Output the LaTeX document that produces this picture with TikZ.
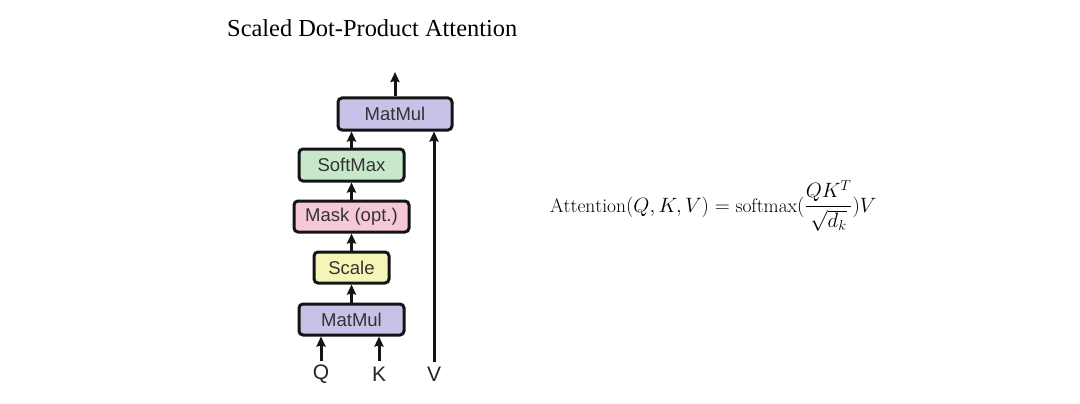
\documentclass[tikz,border=0pt]{standalone}
\usepackage{fontspec}
\usepackage{amsmath}
\setmainfont{Latin Modern Roman}
\newfontfamily\titlefont{Liberation Serif}
\newfontfamily\boxfont{Liberation Sans}
\usetikzlibrary{arrows.meta}
\definecolor{matmulc}{RGB}{201,193,232}
\definecolor{softc}{RGB}{200,232,202}
\definecolor{maskc}{RGB}{246,200,216}
\definecolor{scalec}{RGB}{246,245,184}
\definecolor{linec}{RGB}{20,20,20}
\begin{document}
\begin{tikzpicture}[x=1pt,y=-1pt,
  opbox/.style={draw=linec,line width=3pt,rounded corners=4pt,inner sep=0pt,
    font=\boxfont\fontsize{18.5}{20}\selectfont,text=black!80},
  arr/.style={line width=3pt,draw=linec,-{Stealth[length=10pt,width=9pt,inset=1pt]}},
  lab/.style={font=\boxfont\fontsize{21}{24}\selectfont,text=black!85,inner sep=0pt}]
\useasboundingbox (0,0) rectangle (1080,404);
\node[anchor=base west,font=\titlefont\fontsize{24.4}{28}\selectfont,inner sep=0pt] (title) at (227,37) {Scaled Dot-Product Attention};
\node[opbox,fill=matmulc,minimum width=114pt,minimum height=32pt] (mm2) at (395,114) {MatMul};
\node[opbox,fill=softc,minimum width=105pt,minimum height=32pt] (soft) at (351.5,165) {SoftMax};
\node[opbox,fill=maskc,minimum width=115pt,minimum height=31pt] (mask) at (351.5,216.5) {Mask (opt.)};
\node[opbox,fill=scalec,minimum width=75pt,minimum height=31pt] (scale) at (351.5,267.5) {Scale};
\node[opbox,fill=matmulc,minimum width=105pt,minimum height=31pt] (mm1) at (351.5,319.5) {MatMul};
\node[lab] (Q) at (321,374) {Q};
\node[lab] (K) at (379,374) {K};
\node[lab] (V) at (434,374) {V};
\coordinate (out) at (395,72);
\coordinate (qs) at (321,361);
\coordinate (ks) at (379,361);
\coordinate (vs) at (434,362);
\draw[arr] (mm2.north) -- (out);
\draw[arr] (soft.north) -- (soft.north |- mm2.south);
\draw[arr] (mask.north) -- (soft.south);
\draw[arr] (scale.north) -- (mask.south);
\draw[arr] (mm1.north) -- (scale.south);
\draw[arr] (qs) -- (qs |- mm1.south);
\draw[arr] (ks) -- (ks |- mm1.south);
\draw[arr] (vs) -- (vs |- mm2.south);
\node[anchor=base west,inner sep=0pt,font=\fontsize{19.5}{24}\selectfont] (eq) at (550,212)
  {$\displaystyle\mathrm{Attention}(Q,K,V)=\mathrm{softmax}(\frac{QK^T}{\sqrt{d_k}})V$};
\end{tikzpicture}
\end{document}
